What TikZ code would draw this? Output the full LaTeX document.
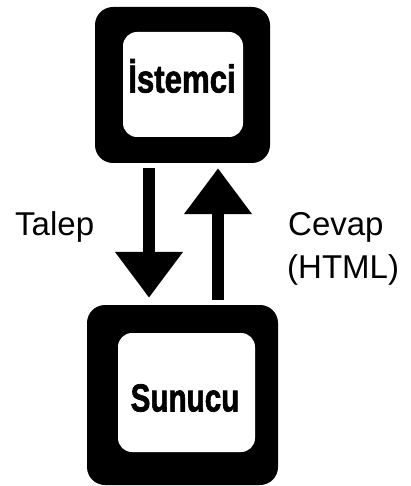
\documentclass[tikz,border=0pt]{standalone}
\usepackage{fontspec}
\usepackage{graphicx}
\setmainfont{Liberation Sans}
\newfontfamily\boxfont{Liberation Sans}[UprightFont={* Bold}, FakeBold=1.8]
\usetikzlibrary{arrows.meta}
\tikzset{
  outerbox/.style={fill=black, rounded corners=18pt, inner sep=0pt},
  innerbox/.style={fill=white, rounded corners=14pt, inner sep=0pt},
  boxlabel/.style={inner sep=0pt, font=\boxfont\fontsize{39}{41}\selectfont},
  sidelabel/.style={inner sep=0pt, anchor=base west, font=\fontsize{33}{38}\selectfont},
  bigarrow/.style={line width=12pt, -{Triangle[width=65pt,length=46pt]}}
}
\begin{document}
\begin{tikzpicture}[x=1pt,y=-1pt]
\useasboundingbox (0,0) rectangle (411,486);
% client
\node[outerbox, minimum width=175pt, minimum height=156pt] (client) at (182.5,85) {};
\node[innerbox, minimum width=120pt, minimum height=105pt] (clientin) at (183,84.5) {};
\node[boxlabel] (clientlbl) at (182,76) {\scalebox{0.8}[1]{İstemci}};
% server
\node[outerbox, minimum width=191pt, minimum height=180pt] (server) at (182.5,395) {};
\node[innerbox, minimum width=137pt, minimum height=119pt] (serverin) at (186.5,392.5) {};
\node[boxlabel] (serverlbl) at (185,398) {\scalebox{0.76}[1]{Sunucu}};
% arrows
\draw[bigarrow] ([xshift=-33.5pt,yshift=-5pt]client.south) -- ([xshift=-33.5pt,yshift=7pt]server.north);
\draw[bigarrow] ([xshift=35.5pt,yshift=5pt]server.north) -- ([xshift=35.5pt,yshift=-5pt]client.south);
% labels
\node[sidelabel] (talep) at (15,235) {Talep};
\node[sidelabel] (cevap) at (288,235) {Cevap};
\node[sidelabel] (html) at (287,278) {(HTML)};
\end{tikzpicture}
\end{document}
